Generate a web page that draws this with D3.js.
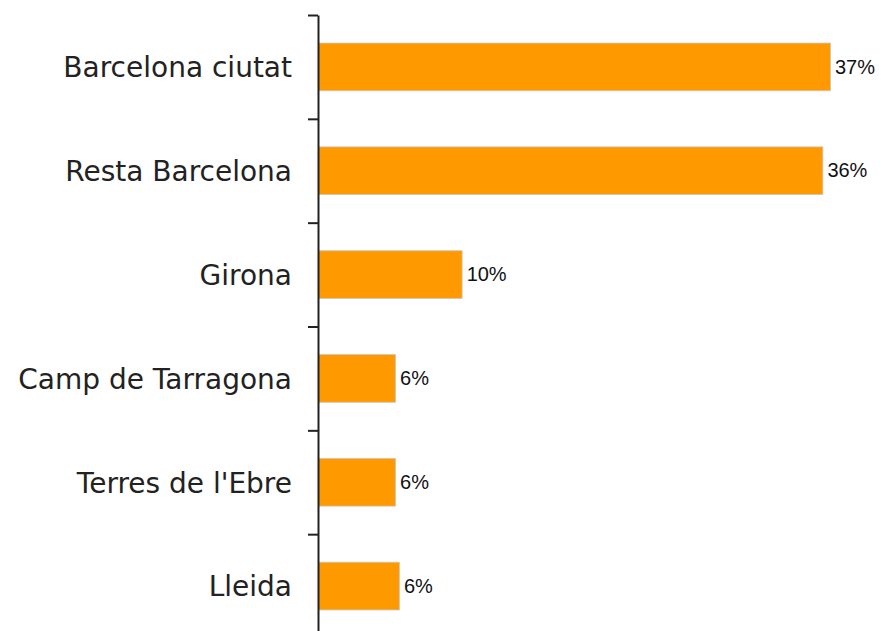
<!DOCTYPE html>
<html>
<head>
<meta charset="utf-8">
<script src="https://cdn.jsdelivr.net/npm/d3@7"></script>
<style>
  html, body { margin: 0; padding: 0; background: #fff; }
</style>
</head>
<body>
<div class="chart"></div>
<script>
// data
const categories = ["Barcelona ciutat", "Resta Barcelona", "Girona", "Camp de Tarragona", "Terres de l'Ebre", "Lleida"];
const values = [37.0, 36.45, 10.38, 5.57, 5.57, 5.85];

// setup chart
const width = 881;
const height = 631;
const svg = d3.select(".chart").append("svg").attr("width", width).attr("height", height);

const x0 = 318;
const x = d3.scaleLinear().domain([0, 37]).range([x0, 830]);
const y = d3.scaleBand().domain(categories).range([15, 638]).paddingInner(0.54).paddingOuter(0.27);

// bars
svg.append("g")
  .selectAll("rect")
  .data(values)
  .enter()
  .append("rect")
  .attr("x", x(0) + 0.5)
  .attr("y", (d, i) => y(categories[i]))
  .attr("width", (d) => x(d) - x(0))
  .attr("height", y.bandwidth())
  .attr("fill", "#ff9900")
  .attr("stroke", "#c8c8c8")
  .attr("stroke-width", 0.8);

// value labels
svg.append("g")
  .selectAll("text")
  .data(values)
  .enter()
  .append("text")
  .attr("x", (d) => x(d) + 5)
  .attr("y", (d, i) => y(categories[i]) + y.bandwidth() / 2)
  .attr("dy", "0.33em")
  .style("font-family", "'Liberation Sans', Arial, sans-serif")
  .style("font-size", "20px")
  .style("fill", "#111")
  .text((d) => `${Math.round(d)}%`);

// axis line with ticks at category boundaries
const edges = d3.scaleLinear().domain([0, categories.length]).range([15, 638]);
const edgeAxis = d3.axisLeft(edges)
  .tickValues(d3.range(categories.length + 1))
  .tickSize(10)
  .tickSizeOuter(0)
  .tickFormat("");
const axisG = svg.append("g").attr("transform", `translate(${x0},0)`).call(edgeAxis);
axisG.selectAll("path, line").attr("stroke", "#222").attr("stroke-width", 2);

// category labels
const labelAxis = d3.axisLeft(y).tickSize(0).tickPadding(26);
const labelG = svg.append("g").attr("transform", `translate(${x0},0)`).call(labelAxis);
labelG.select(".domain").remove();
labelG.selectAll("text")
  .attr("dy", "0.37em")
  .style("font-family", "'DejaVu Sans', sans-serif")
  .style("font-size", "28px")
  .style("fill", "#222");
</script>
</body>
</html>
